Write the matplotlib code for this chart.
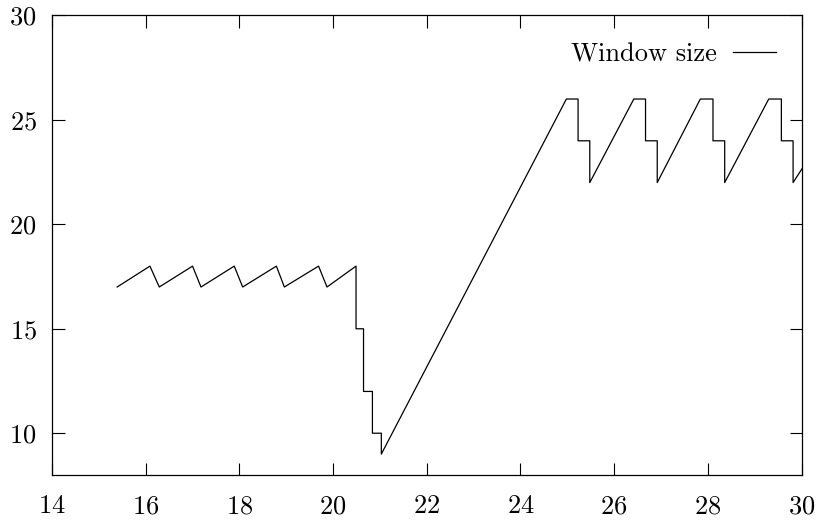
import matplotlib
matplotlib.use("Agg")
import matplotlib.pyplot as plt

plt.rcParams["font.family"] = ["cmr10", "DejaVu Serif"]
plt.rcParams["axes.formatter.use_mathtext"] = True

# Congestion window trace (time, window size)
time_s = [15.39, 16.09, 16.29, 17.00, 17.18, 17.89, 18.07, 18.79, 18.96, 19.69,
          19.87, 20.49, 20.49, 20.65, 20.65, 20.84, 20.84, 21.03, 21.03,
          24.98, 25.23, 25.23, 25.48, 25.48,
          26.42, 26.67, 26.67, 26.92, 26.92,
          27.84, 28.11, 28.11, 28.36, 28.36,
          29.30, 29.57, 29.57, 29.82, 29.82, 30.05]
window = [17, 18, 17, 18, 17, 18, 17, 18, 17, 18,
          17, 18, 15, 15, 12, 12, 10, 10, 9,
          26, 26, 24, 24, 22,
          26, 26, 24, 24, 22,
          26, 26, 24, 24, 22,
          26, 26, 24, 24, 22, 22.8]

x_ticks = [14, 16, 18, 20, 22, 24, 26, 28, 30]
y_ticks = [10, 15, 20, 25, 30]

fig = plt.figure(figsize=(8.23, 5.23), dpi=100, facecolor="white")
ax = fig.add_axes([0.0632, 0.0918, 0.9107, 0.8786])

ax.plot(time_s, window, color="black", lw=0.9, label="Window size")

ax.set_xlim(14, 30)
ax.set_ylim(8, 30)
ax.set_xticks(x_ticks)
ax.set_yticks(y_ticks)

for side in ax.spines.values():
    side.set_linewidth(0.9)
ax.tick_params(direction="in", length=9, width=0.8, labelsize=19,
               top=True, right=True)
ax.tick_params(axis="x", pad=14)
ax.tick_params(axis="y", pad=11)

ax.legend(loc="upper right", bbox_to_anchor=(0.943, 0.918),
          bbox_transform=fig.transFigure, frameon=False, markerfirst=False,
          fontsize=19, borderpad=0, borderaxespad=0,
          handlelength=1.63, handletextpad=0.6)

fig.savefig("out.png", dpi=100, facecolor="white")
